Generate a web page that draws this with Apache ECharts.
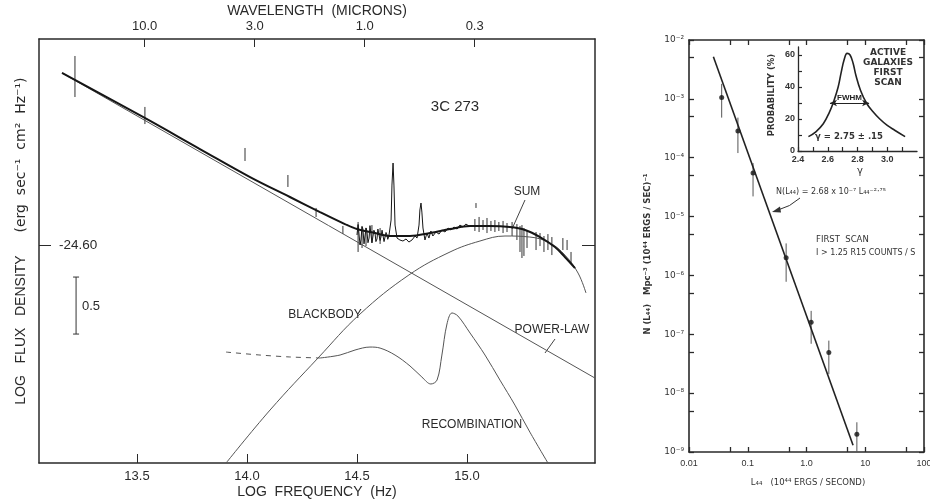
<!DOCTYPE html>
<html><head><meta charset="utf-8">
<script src="https://cdn.jsdelivr.net/npm/echarts@6/dist/echarts.min.js"></script>
<style>html,body{margin:0;padding:0;background:#fff}#c{width:930px;height:501px}</style>
</head><body><div id="c"></div>
<script>
// ---------- Left panel: 3C 273 spectrum (log nu, log F) ----------
const freqTicks = [13.5, 14.0, 14.5, 15.0];
const waveTickPos = [13.535, 14.035, 14.535, 15.035];
const waveTickLabels = ['10.0', '3.0', '1.0', '0.3'];
const fluxTicks = [-24.6];
const powerLaw = [[13.159, -23.091], [15.582, -25.767]];
const sumCurve = [[13.159,-23.091],[13.527,-23.477],[13.786,-23.758],[14.014,-24.004],[14.195,-24.179],[14.332,-24.311],[14.445,-24.416],[14.5,-24.46],[14.582,-24.495],[14.65,-24.52],[14.741,-24.52],[14.832,-24.495],[14.923,-24.46],[15.014,-24.433],[15.105,-24.433],[15.195,-24.442],[15.264,-24.468],[15.332,-24.53],[15.4,-24.618],[15.445,-24.705],[15.491,-24.802]];
const blackbody = [[13.905,-26.512],[14.105,-26.047],[14.323,-25.591],[14.514,-25.205],[14.736,-24.863],[14.923,-24.661],[15.059,-24.565],[15.173,-24.521],[15.286,-24.53],[15.377,-24.582],[15.445,-24.688],[15.505,-24.846],[15.541,-25.021]];
const recombDashed = [[13.905,-25.539],[14.059,-25.565],[14.195,-25.582],[14.332,-25.591]];
const recombSolid = [[14.332,-25.591],[14.423,-25.565],[14.491,-25.521],[14.559,-25.495],[14.605,-25.504],[14.673,-25.565],[14.741,-25.661],[14.795,-25.758],[14.836,-25.819],[14.864,-25.784],[14.886,-25.565],[14.909,-25.293],[14.932,-25.196],[14.959,-25.223],[15.014,-25.372],[15.082,-25.565],[15.15,-25.785],[15.218,-26.004],[15.286,-26.241],[15.368,-26.512]];
const spectrum = [[14.5,-24.512],[14.505,-24.42],[14.509,-24.433],[14.514,-24.6],[14.518,-24.556],[14.523,-24.44],[14.527,-24.46],[14.532,-24.59],[14.536,-24.574],[14.541,-24.45],[14.545,-24.477],[14.55,-24.58],[14.555,-24.539],[14.559,-24.43],[14.564,-24.442],[14.568,-24.58],[14.573,-24.565],[14.577,-24.47],[14.582,-24.495],[14.586,-24.57],[14.591,-24.547],[14.595,-24.46],[14.6,-24.468],[14.605,-24.56],[14.609,-24.53],[14.614,-24.47],[14.618,-24.486],[14.623,-24.57],[14.627,-24.556],[14.632,-24.49],[14.636,-24.512],[14.64,-24.55],[14.645,-24.521],[14.655,-24.381],[14.659,-24.074],[14.664,-23.881],[14.668,-24.074],[14.673,-24.425],[14.682,-24.539],[14.695,-24.556],[14.709,-24.565],[14.723,-24.547],[14.736,-24.574],[14.75,-24.556],[14.764,-24.521],[14.773,-24.539],[14.782,-24.425],[14.786,-24.293],[14.791,-24.232],[14.795,-24.311],[14.8,-24.451],[14.809,-24.556],[14.818,-24.495],[14.827,-24.539],[14.836,-24.477],[14.845,-24.521],[14.859,-24.486],[14.873,-24.504],[14.886,-24.468],[14.9,-24.486],[14.914,-24.451],[14.927,-24.468],[14.941,-24.442],[14.955,-24.46],[14.968,-24.425],[14.982,-24.442],[14.995,-24.416],[15.009,-24.433]];
const photBars = [[13.218,-23.302,-22.942],[13.536,-23.539,-23.389],[13.991,-23.863,-23.749],[14.186,-24.091,-23.986],[14.314,-24.354,-24.275],[14.436,-24.504,-24.433],[15.041,-24.275,-24.232]];
const noiseBars = [[14.505,-24.661,-24.398],[14.523,-24.626,-24.433],[14.541,-24.609,-24.451],[14.568,-24.582,-24.425],[14.605,-24.591,-24.451]];
const uvBars = [[15.036,-24.477,-24.372],[15.055,-24.486,-24.354],[15.073,-24.468,-24.381],[15.091,-24.495,-24.363],[15.109,-24.477,-24.389],[15.127,-24.486,-24.381],[15.145,-24.477,-24.398],[15.164,-24.495,-24.389],[15.182,-24.486,-24.407],[15.205,-24.521,-24.398],[15.227,-24.556,-24.416],[15.241,-24.661,-24.433],[15.25,-24.714,-24.425],[15.259,-24.696,-24.451],[15.273,-24.626,-24.468],[15.314,-24.644,-24.486],[15.332,-24.609,-24.495],[15.35,-24.661,-24.521],[15.368,-24.644,-24.504],[15.386,-24.688,-24.53],[15.436,-24.644,-24.539],[15.455,-24.644,-24.556],[15.473,-24.758,-24.661]];
const scaleBar = [[13.223, -25.381, -24.881]];

// ---------- Right panel: luminosity function ----------
const lumTicks = [0.01, 0.05, 0.1, 0.5, 1, 5, 10, 50, 100];
const lumLabels = [0.01, 0.1, 1, 10, 100];
const lumLabelText = ['0.01', '0.1', '1.0', '10', '100'];
const densTicks = [1e-9,5e-9,1e-8,5e-8,1e-7,5e-7,1e-6,5e-6,1e-5,5e-5,1e-4,5e-4,1e-3,5e-3,1e-2];
const densLabels = [1e-9,1e-8,1e-7,1e-6,1e-5,1e-4,1e-3,1e-2];
const lumL = [0.036, 0.068, 0.123, 0.45, 1.2, 2.4, 7.2];
const lumN = [1.05e-3, 2.85e-4, 5.5e-5, 2.0e-6, 1.6e-7, 4.9e-8, 2.0e-9];
const lumNlow = [4.8e-4, 1.2e-4, 2.2e-5, 7.8e-7, 6.9e-8, 2.1e-8, 1.0e-9];
const lumNhigh = [1.8e-3, 4.8e-4, 8.1e-5, 3.5e-6, 2.5e-7, 7.8e-8, 3.2e-9];
const fitLine = [[0.026, 5.2e-3], [6.2, 1.3e-9]];

// ---------- Inset: gamma probability ----------
const gammaTicks = [2.4, 2.5, 2.6, 2.7, 2.8, 2.9, 3.0, 3.1];
const gammaLabels = [2.4, 2.6, 2.8, 3.0];
const probTicks = [0, 10, 20, 30, 40, 50, 60];
const probLabels = [0, 20, 40, 60];
const gammaX = [2.47, 2.52, 2.57, 2.61, 2.64, 2.67, 2.69, 2.71, 2.73, 2.75, 2.77, 2.79, 2.82, 2.86, 2.9, 2.95, 3.0, 3.05, 3.12];
const probY = [9, 12, 17, 24, 31, 40, 49, 57, 61, 60, 55, 47, 38, 30, 25, 20, 16, 13, 9];
const fwhm = [[2.615, 30], [2.878, 30]];

const supMap = {'-':'⁻','0':'⁰','1':'¹','2':'²','3':'³','4':'⁴','5':'⁵','6':'⁶','7':'⁷','8':'⁸','9':'⁹'};
const sup = s => String(s).replace(/[-0-9]/g, c => supMap[c]);
const near = (arr, v, lg) => arr.findIndex(p => Math.abs((lg ? Math.log10(p) : p) - (lg ? Math.log10(v) : v)) < 1e-6);

const INK = '#2a2a2a';
const F1 = 'Liberation Sans, Arial, sans-serif';

function vbar(capHalf, color, width) {
  return function (params, api) {
    const x = api.value(0), lo = api.value(1), hi = api.value(2);
    const a = api.coord([x, lo]), b = api.coord([x, hi]);
    const st = {stroke: color, lineWidth: width};
    const ch = [{type: 'line', shape: {x1: a[0], y1: a[1], x2: b[0], y2: b[1]}, style: st}];
    if (capHalf > 0) {
      ch.push({type: 'line', shape: {x1: a[0]-capHalf, y1: a[1], x2: a[0]+capHalf, y2: a[1]}, style: st});
      ch.push({type: 'line', shape: {x1: b[0]-capHalf, y1: b[1], x2: b[0]+capHalf, y2: b[1]}, style: st});
    }
    return {type: 'group', children: ch};
  };
}

const axLine = (w) => ({show: true, onZero: false, lineStyle: {color: INK, width: w}});
const noSplit = {show: false};

const option = {
  animation: false,
  backgroundColor: '#fff',
  grid: [
    {left: 39, top: 39, width: 556, height: 424, containLabel: false, outerBoundsMode: 'none'},
    {left: 689, top: 40, width: 235, height: 412, containLabel: false, outerBoundsMode: 'none'},
    {left: 798, top: 47, width: 119, height: 104, containLabel: false, outerBoundsMode: 'none'}
  ],
  xAxis: [
    {gridIndex: 0, type: 'value', position: 'bottom', min: 13.0545, max: 15.582,
     axisLine: axLine(1.5), splitLine: noSplit,
     axisTick: {inside: true, length: 9, customValues: freqTicks, lineStyle: {color: INK, width: 1}},
     axisLabel: {customValues: freqTicks, formatter: v => v.toFixed(1), margin: 7, color: INK, fontSize: 13, fontFamily: F1}},
    {gridIndex: 0, type: 'value', position: 'top', min: 13.0545, max: 15.582,
     axisLine: axLine(1.5), splitLine: noSplit,
     axisTick: {inside: true, length: 8, customValues: waveTickPos, lineStyle: {color: INK, width: 1}},
     axisLabel: {customValues: waveTickPos, formatter: v => { const i = near(waveTickPos, v); return i >= 0 ? waveTickLabels[i] : ''; }, margin: 6, color: INK, fontSize: 13, fontFamily: F1}},
    {gridIndex: 1, type: 'log', logBase: 10, position: 'bottom', min: 0.01, max: 100,
     axisLine: axLine(1.6), splitLine: noSplit, minorTick: {show: false},
     axisTick: {inside: true, length: 5, customValues: lumTicks, lineStyle: {color: INK, width: 1.3}},
     axisLabel: {customValues: lumLabels, formatter: v => { const i = near(lumLabels, v, true); return i >= 0 ? lumLabelText[i] : ''; }, margin: 7, color: '#333', fontSize: 9, fontFamily: F1}},
    {gridIndex: 1, type: 'log', logBase: 10, position: 'top', min: 0.01, max: 100,
     axisLine: axLine(1.6), splitLine: noSplit,
     axisTick: {inside: true, length: 5, customValues: lumTicks, lineStyle: {color: INK, width: 1.3}},
     axisLabel: {show: false}},
    {gridIndex: 2, type: 'value', position: 'bottom', min: 2.4, max: 3.2,
     axisLine: axLine(1.3), splitLine: noSplit,
     axisTick: {inside: true, length: 4, customValues: gammaTicks, lineStyle: {color: INK, width: 1.2}},
     axisLabel: {customValues: gammaLabels, formatter: v => v.toFixed(1), margin: 4, color: '#333', fontSize: 9, fontWeight: 'bold', fontFamily: F1}}
  ],
  yAxis: [
    {gridIndex: 0, type: 'value', position: 'left', min: -26.512, max: -22.793,
     axisLine: axLine(1.5), splitLine: noSplit,
     axisTick: {inside: true, length: 12, customValues: fluxTicks, lineStyle: {color: INK, width: 1}},
     axisLabel: {inside: true, customValues: fluxTicks, formatter: v => v.toFixed(2), margin: 20, color: INK, fontSize: 13.5, fontFamily: F1}},
    {gridIndex: 0, type: 'value', position: 'right', min: -26.512, max: -22.793,
     axisLine: axLine(1.5), splitLine: noSplit,
     axisTick: {inside: true, length: 13, customValues: fluxTicks, lineStyle: {color: INK, width: 1}},
     axisLabel: {show: false}},
    {gridIndex: 1, type: 'log', logBase: 10, position: 'left', min: 1e-9, max: 1e-2,
     axisLine: axLine(1.6), splitLine: noSplit,
     axisTick: {inside: true, length: 5, customValues: densTicks, lineStyle: {color: INK, width: 1.3}},
     axisLabel: {customValues: densLabels, formatter: v => '10' + sup(Math.round(Math.log10(v))), margin: 5, color: '#333', fontSize: 9, fontFamily: 'DejaVu Sans, sans-serif'}},
    {gridIndex: 1, type: 'log', logBase: 10, position: 'right', min: 1e-9, max: 1e-2,
     axisLine: axLine(1.6), splitLine: noSplit,
     axisTick: {inside: true, length: 5, customValues: densTicks, lineStyle: {color: INK, width: 1.3}},
     axisLabel: {show: false}},
    {gridIndex: 2, type: 'value', position: 'left', min: 0, max: 65,
     axisLine: axLine(1.3), splitLine: noSplit,
     axisTick: {inside: true, length: 4, customValues: probTicks, lineStyle: {color: INK, width: 1.2}},
     axisLabel: {customValues: probLabels, margin: 3, color: '#333', fontSize: 9, fontWeight: 'bold', fontFamily: F1}}
  ],
  series: [
    {type: 'line', xAxisIndex: 0, yAxisIndex: 0, data: powerLaw, showSymbol: false, lineStyle: {color: '#555', width: 1}},
    {type: 'line', xAxisIndex: 0, yAxisIndex: 0, data: blackbody, smooth: 0.4, showSymbol: false, lineStyle: {color: '#555', width: 1}},
    {type: 'line', xAxisIndex: 0, yAxisIndex: 0, data: recombDashed, smooth: 0.3, showSymbol: false, lineStyle: {color: '#555', width: 1, type: [5, 5]}},
    {type: 'line', xAxisIndex: 0, yAxisIndex: 0, data: recombSolid, smooth: 0.35, showSymbol: false, lineStyle: {color: '#555', width: 1}},
    {type: 'line', xAxisIndex: 0, yAxisIndex: 0, data: sumCurve, smooth: 0.35, showSymbol: false, lineStyle: {color: '#151515', width: 2}},
    {type: 'line', xAxisIndex: 0, yAxisIndex: 0, data: spectrum, showSymbol: false, lineStyle: {color: '#151515', width: 1}},
    {type: 'custom', xAxisIndex: 0, yAxisIndex: 0, data: photBars.concat(noiseBars, uvBars), encode: {x: 0, y: [1, 2]}, renderItem: vbar(0, '#333', 1)},
    {type: 'custom', xAxisIndex: 0, yAxisIndex: 0, data: scaleBar, encode: {x: 0, y: [1, 2]}, renderItem: vbar(3, '#333', 1)},

    {type: 'line', xAxisIndex: 2, yAxisIndex: 2, data: fitLine, showSymbol: false, lineStyle: {color: '#222', width: 1.6}},
    {type: 'custom', xAxisIndex: 2, yAxisIndex: 2, data: lumL.map((l, i) => [l, lumNlow[i], lumNhigh[i]]), encode: {x: 0, y: [1, 2]}, renderItem: vbar(0, '#555', 1)},
    {type: 'scatter', xAxisIndex: 2, yAxisIndex: 2, data: lumL.map((l, i) => [l, lumN[i]]), symbolSize: 5, itemStyle: {color: '#111'}},

    {type: 'line', xAxisIndex: 4, yAxisIndex: 4, data: gammaX.map((g, i) => [g, probY[i]]), smooth: 0.4, showSymbol: false, lineStyle: {color: '#222', width: 1.6},
     markLine: {silent: true, symbol: ['arrow', 'arrow'], symbolSize: [5, 7],
       lineStyle: {color: '#222', width: 1.2, type: 'solid'},
       label: {show: true, position: 'middle', formatter: 'FWHM', distance: 1, color: '#222', fontSize: 8, fontWeight: 'bold', fontFamily: F1},
       data: [[{coord: fwhm[0]}, {coord: fwhm[1]}]]}}
  ],
  graphic: [
    {type: 'text', x: 317, y: 11, style: {text: 'WAVELENGTH  (MICRONS)', fill: INK, font: '14px Liberation Sans', align: 'center', verticalAlign: 'middle'}},
    {type: 'text', x: 317, y: 492, style: {text: 'LOG  FREQUENCY  (Hz)', fill: INK, font: '14px Liberation Sans', align: 'center', verticalAlign: 'middle'}},
    {type: 'text', x: 21, y: 330, rotation: Math.PI / 2, style: {text: 'LOG   FLUX   DENSITY', fill: INK, font: '14px Liberation Sans', align: 'center', verticalAlign: 'middle'}},
    {type: 'text', x: 21, y: 155, rotation: Math.PI / 2, style: {text: '(erg  sec⁻¹  cm²  Hz⁻¹)', fill: INK, font: '14px DejaVu Sans', align: 'center', verticalAlign: 'middle'}},
    {type: 'text', x: 455, y: 107, style: {text: '3C 273', fill: INK, font: '15px Liberation Sans', align: 'center', verticalAlign: 'middle'}},
    {type: 'text', x: 527, y: 192, style: {text: 'SUM', fill: INK, font: '12px Liberation Sans', align: 'center', verticalAlign: 'middle'}},
    {type: 'line', shape: {x1: 525, y1: 200, x2: 512, y2: 229}, style: {stroke: '#444', lineWidth: 1}},
    {type: 'text', x: 325, y: 315, style: {text: 'BLACKBODY', fill: INK, font: '12px Liberation Sans', align: 'center', verticalAlign: 'middle'}},
    {type: 'text', x: 552, y: 330, style: {text: 'POWER-LAW', fill: INK, font: '12px Liberation Sans', align: 'center', verticalAlign: 'middle'}},
    {type: 'line', shape: {x1: 555, y1: 339, x2: 545, y2: 353}, style: {stroke: '#444', lineWidth: 1}},
    {type: 'text', x: 472, y: 425, style: {text: 'RECOMBINATION', fill: INK, font: '12px Liberation Sans', align: 'center', verticalAlign: 'middle'}},
    {type: 'text', x: 82, y: 306, style: {text: '0.5', fill: INK, font: '13px Liberation Sans', align: 'left', verticalAlign: 'middle'}},

    {type: 'text', x: 648, y: 254, rotation: Math.PI / 2, style: {text: 'N (L₄₄)   Mpc⁻³ (10⁴⁴ ERGS / SEC)⁻¹', fill: '#333', font: 'bold 8.5px DejaVu Sans', align: 'center', verticalAlign: 'middle'}},
    {type: 'text', x: 808, y: 483, style: {text: 'L₄₄   (10⁴⁴ ERGS / SECOND)', fill: '#333', font: '8.5px DejaVu Sans', align: 'center', verticalAlign: 'middle'}},
    {type: 'text', x: 816, y: 240, style: {text: 'FIRST  SCAN', fill: '#333', font: '8.5px DejaVu Sans', align: 'left', verticalAlign: 'middle'}},
    {type: 'text', x: 816, y: 253, style: {text: 'I > 1.25 R15 COUNTS / S', fill: '#333', font: '8px DejaVu Sans', align: 'left', verticalAlign: 'middle'}},
    {type: 'text', x: 831, y: 192, style: {text: 'N(L₄₄) = 2.68 x 10⁻⁷ L₄₄⁻²·⁷⁵', fill: '#333', font: '8px DejaVu Sans', align: 'center', verticalAlign: 'middle'}},
    {type: 'bezierCurve', shape: {x1: 800, y1: 198, x2: 778, y2: 210, cpx1: 790, cpy1: 207}, style: {stroke: '#333', lineWidth: 1, fill: 'none'}},
    {type: 'polygon', shape: {points: [[772, 212], [780, 206.5], [781, 212.5]]}, style: {fill: '#333'}},
    {type: 'text', x: 888, y: 68, style: {text: 'ACTIVE\nGALAXIES\nFIRST\nSCAN', fill: '#333', font: 'bold 9px DejaVu Sans', align: 'center', verticalAlign: 'middle', lineHeight: 10}},
    {type: 'text', x: 772, y: 95, rotation: Math.PI / 2, style: {text: 'PROBABILITY (%)', fill: '#333', font: 'bold 8.5px DejaVu Sans', align: 'center', verticalAlign: 'middle'}},
    {type: 'text', x: 860, y: 171, style: {text: 'γ', fill: '#333', font: '10px DejaVu Sans', align: 'center', verticalAlign: 'middle'}},
    {type: 'text', x: 849, y: 137, style: {text: 'γ = 2.75 ± .15', fill: '#333', font: 'bold 8.5px DejaVu Sans', align: 'center', verticalAlign: 'middle'}}
  ]
};

const chart = echarts.init(document.getElementById('c'), null, {renderer: 'canvas'});
chart.setOption(option);
</script>
</body></html>
